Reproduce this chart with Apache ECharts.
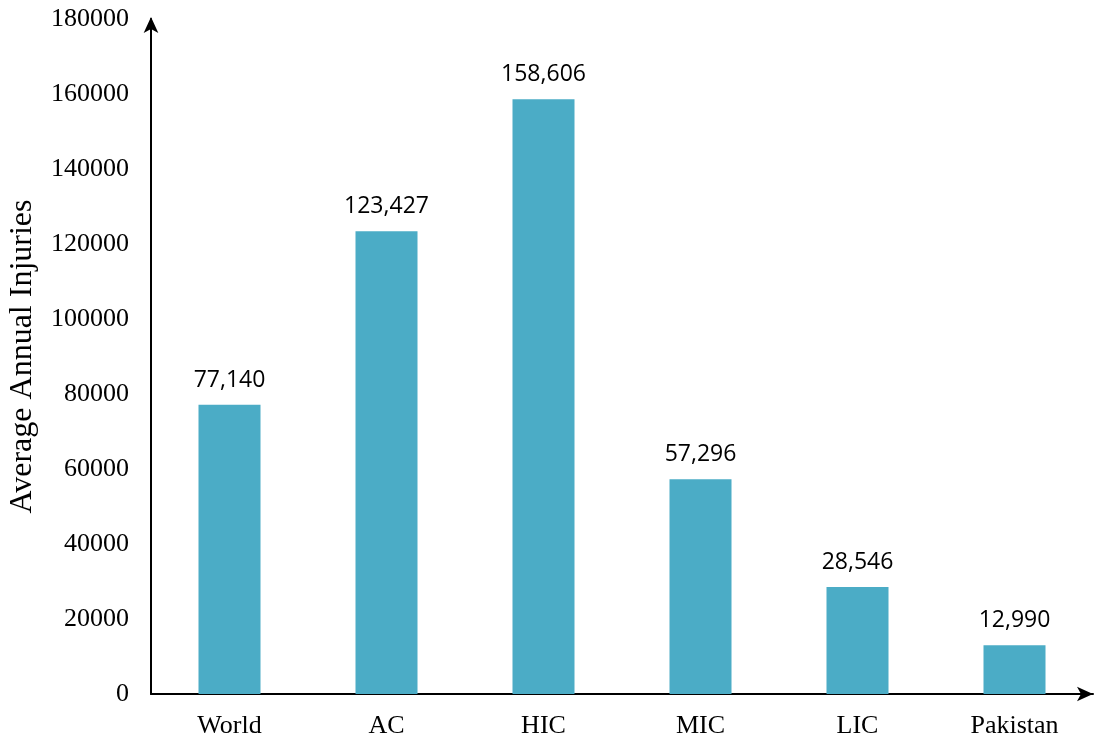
<!DOCTYPE html>
<html>
<head>
<meta charset="utf-8">
<script src="https://cdn.jsdelivr.net/npm/echarts@6/dist/echarts.min.js"></script>
<style>
  html, body { margin: 0; padding: 0; background: #fff; }
  #chart { width: 1094px; height: 745px; }
</style>
</head>
<body>
<div id="chart"></div>
<script>
// Average annual injuries by country group
const categories = ['World', 'AC', 'HIC', 'MIC', 'LIC', 'Pakistan'];
const injuries = [77140, 123427, 158606, 57296, 28546, 12990];
const yTicks = [0, 20000, 40000, 60000, 80000, 100000, 120000, 140000, 160000, 180000];

const serif = '"Liberation Serif", "DejaVu Serif", serif';
const sans = '"Open Sans", "Liberation Sans", sans-serif';

const chart = echarts.init(document.getElementById('chart'));
chart.setOption({
  animation: false,
  grid: { left: 151, right: 1, top: 19, bottom: 51, containLabel: false, outerBoundsMode: 'none' },
  xAxis: {
    type: 'category',
    data: categories,
    axisLine: {
      show: true,
      symbol: ['none', 'arrow'],
      symbolSize: [11, 16],
      lineStyle: { color: '#000', width: 2 }
    },
    axisTick: { show: false },
    axisLabel: { fontFamily: serif, fontSize: 26, color: '#000', margin: 19 }
  },
  yAxis: {
    type: 'value',
    min: yTicks[0],
    max: yTicks[yTicks.length - 1],
    interval: yTicks[1] - yTicks[0],
    name: 'Average Annual Injuries',
    nameLocation: 'middle',
    nameGap: 112,
    nameTextStyle: { fontFamily: serif, fontSize: 32, color: '#000' },
    axisLine: {
      show: true,
      symbol: ['none', 'arrow'],
      symbolSize: [11, 16],
      symbolOffset: [0, 2],
      lineStyle: { color: '#000', width: 2 }
    },
    axisTick: { show: false },
    splitLine: { show: false },
    axisLabel: {
      fontFamily: serif, fontSize: 26, color: '#000', margin: 22,
      formatter: v => String(v)
    }
  },
  series: [{
    type: 'bar',
    data: injuries,
    barWidth: 62,
    itemStyle: { color: '#4BACC6' },
    label: {
      show: true,
      position: 'top',
      distance: 13,
      fontFamily: sans,
      fontSize: 23,
      color: '#000',
      formatter: p => p.value.toLocaleString('en-US')
    }
  }]
});
</script>
</body>
</html>
